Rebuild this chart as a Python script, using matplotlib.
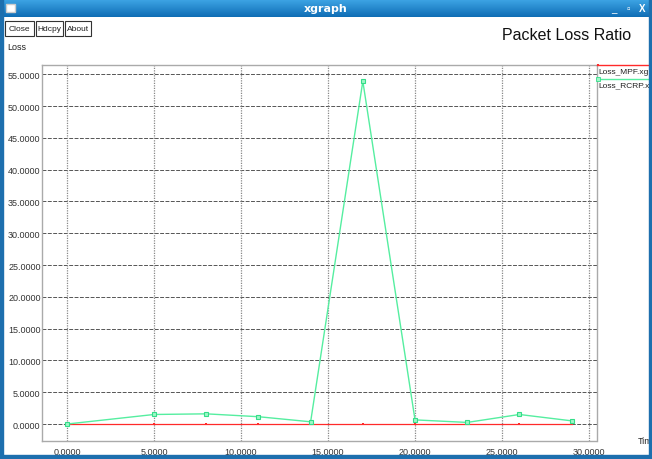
import numpy as np
import matplotlib
matplotlib.use("Agg")
import matplotlib.pyplot as plt
from matplotlib.patches import Rectangle

plt.rcParams['font.family'] = ['Liberation Sans Narrow', 'DejaVu Sans Condensed', 'Liberation Sans', 'DejaVu Sans']

# data
time = [0, 5, 8, 11, 14, 17, 20, 23, 26, 29]
loss_mpf = [0, 0, 0, 0, 0, 0, 0, 0, 0, 0]
loss_rcrp = [0.0, 1.5, 1.6, 1.15, 0.35, 53.9, 0.65, 0.25, 1.5, 0.5]
x_ticks = [0, 5, 10, 15, 20, 25, 30]
y_ticks = [0, 5, 10, 15, 20, 25, 30, 35, 40, 45, 50, 55]

W, H = 652, 460
fig = plt.figure(figsize=(W / 100, H / 100), dpi=100)
fig.patch.set_facecolor('white')

def fx(px):
    return px / W

def fy(py):
    return 1 - py / H

# window title bar with gradient
tb = fig.add_axes([0, fy(18), 1, 18 / H])
grad = np.linspace(0, 1, 50).reshape(-1, 1)
tb.imshow(grad, aspect='auto', cmap=matplotlib.colors.LinearSegmentedColormap.from_list(
    'tb', ['#3fa6e6', '#0f6db5']), extent=[0, 1, 0, 1])
tb.axis('off')
tb.text(0.5, 0.5, 'xgraph', color='white', fontsize=8, fontweight='bold',
        ha='center', va='center', family=['DejaVu Sans'])
tb.add_patch(Rectangle((6 / W, 0.3), 9 / W, 0.45, facecolor='white', edgecolor='#cccccc'))
tb.text(1 - 38 / W, 0.5, '_', color='white', fontsize=7, ha='center', va='center')
tb.text(1 - 24 / W, 0.5, '▫', color='white', fontsize=7, ha='center', va='center')
tb.text(1 - 10 / W, 0.5, 'X', color='white', fontsize=7, fontweight='bold', ha='center', va='center')

# window borders
border = '#1d6fae'
fig.add_artist(Rectangle((0, 0), fx(3), 1, transform=fig.transFigure, color=border, zorder=5))
fig.add_artist(Rectangle((1 - fx(3), 0), fx(3), 1, transform=fig.transFigure, color=border, zorder=5))
fig.add_artist(Rectangle((0, 0), 1, 4 / H, transform=fig.transFigure, color=border, zorder=5))

# buttons
for label, x0, x1 in [('Close', 5, 34), ('Hdcpy', 36, 63), ('About', 65, 91)]:
    fig.add_artist(Rectangle((fx(x0), fy(37)), fx(x1 - x0), 15 / H, transform=fig.transFigure,
                             facecolor='white', edgecolor='#333333', linewidth=0.8))
    fig.text(fx((x0 + x1) / 2), fy(29.5), label, fontsize=6, ha='center', va='center', color='#222222')

fig.text(fx(567), fy(35), 'Packet Loss Ratio', fontsize=11.5, ha='center', va='center', color='#111111')
fig.text(fx(7), fy(48), 'Loss', fontsize=6.5, ha='left', va='center', color='#222222')
fig.text(fx(638), fy(442), 'Tim', fontsize=6.5, ha='left', va='center', color='#222222')

# plot area
ax = fig.add_axes([fx(42), fy(442), fx(597 - 42), (442 - 66) / H])
ax.set_xlim(-1.44, 30.46)
ax.set_ylim(-2.67, 56.45)
for s in ax.spines.values():
    s.set_color('#aaaaaa')
    s.set_linestyle((0, (1, 1)))
    s.set_linewidth(1)

for yv in y_ticks:
    ax.axhline(yv, color='#555555', linestyle=(0, (4, 1.5)), linewidth=0.7, zorder=1)
for xv in x_ticks:
    ax.axvline(xv, color='#888888', linestyle=(0, (1, 1)), linewidth=0.9, zorder=1)

ax.plot(time, loss_mpf, color='#ff2a2a', linewidth=0.9, marker='s', markersize=2,
        markeredgewidth=0, zorder=3)
ax.plot(time, loss_rcrp, color='#55eea0', linewidth=1.0, marker='s', markersize=3,
        markerfacecolor='#9ff7c8', markeredgecolor='#33dd88', markeredgewidth=0.8, zorder=4)

ax.set_xticks(x_ticks)
ax.set_yticks(y_ticks)
ax.set_xticklabels([f'{v:.4f}' for v in x_ticks])
ax.set_yticklabels([f'{v:.4f}' for v in y_ticks])
ax.tick_params(length=0, labelsize=6.5, colors='#333333', pad=1)
ax.tick_params(axis='x', pad=4)

# legend at right edge
fig.add_artist(plt.Line2D([fx(597), 1], [fy(66), fy(66)], color='#ff2a2a', linewidth=1))
fig.add_artist(plt.Line2D([fx(598)], [fy(66)], color='#ff2a2a', marker='s', markersize=2, markeredgewidth=0))
fig.text(fx(598), fy(72), 'Loss_MPF.xg', fontsize=6, ha='left', va='center', color='#222222')
fig.add_artist(plt.Line2D([fx(597), 1], [fy(80), fy(80)], color='#55eea0', linewidth=1))
fig.add_artist(plt.Line2D([fx(598)], [fy(80)], color='#55eea0', marker='s', markersize=2.5,
                          markerfacecolor='#9ff7c8', markeredgecolor='#33dd88', markeredgewidth=0.6))
fig.text(fx(598), fy(87), 'Loss_RCRP.xg', fontsize=6, ha='left', va='center', color='#222222')

fig.savefig('out.png', dpi=100)
